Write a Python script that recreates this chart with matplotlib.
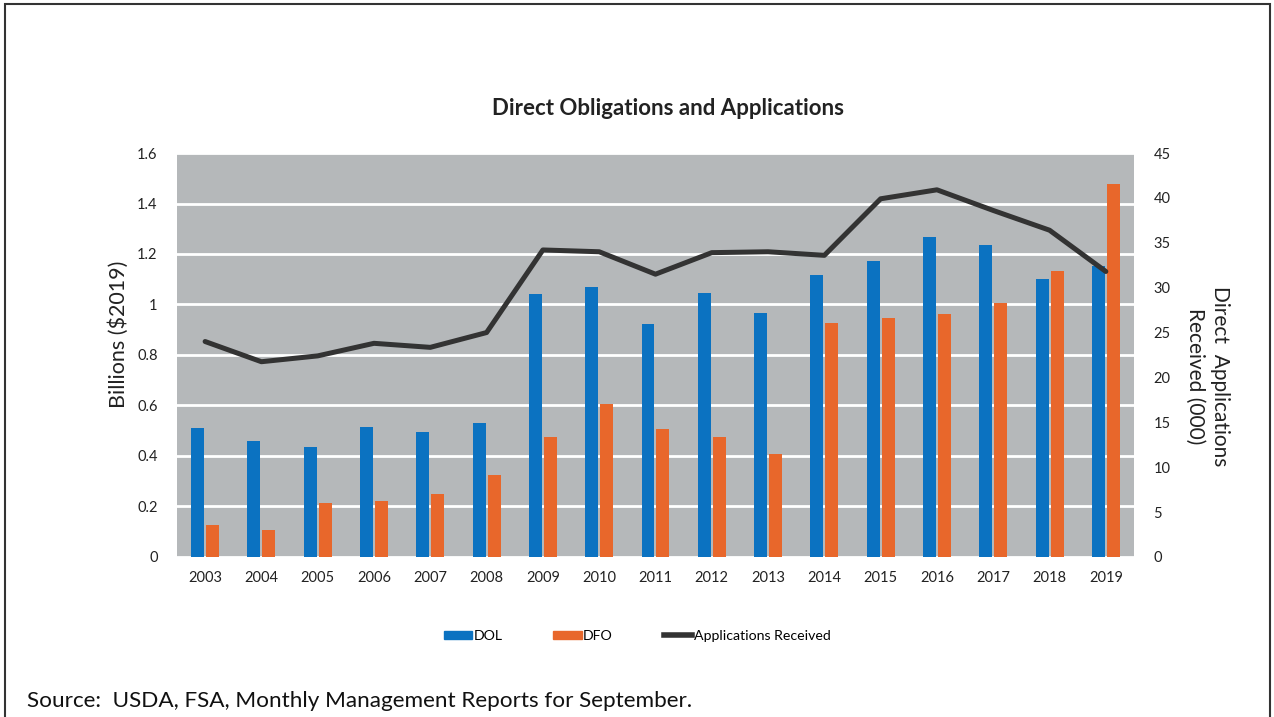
import numpy as np
import matplotlib
matplotlib.use("Agg")
import matplotlib.pyplot as plt
from matplotlib.patches import Rectangle
from matplotlib.lines import Line2D
from matplotlib.patches import Patch

plt.rcParams['font.family'] = ['Lato', 'DejaVu Sans']

years = ["2003", "2004", "2005", "2006", "2007", "2008", "2009", "2010", "2011",
         "2012", "2013", "2014", "2015", "2016", "2017", "2018", "2019"]
dol = [0.51, 0.46, 0.434, 0.516, 0.496, 0.53, 1.042, 1.07, 0.923,
       1.046, 0.966, 1.117, 1.172, 1.266, 1.237, 1.10, 1.152]
dfo = [0.125, 0.107, 0.213, 0.22, 0.251, 0.324, 0.475, 0.606, 0.507,
       0.475, 0.408, 0.927, 0.947, 0.964, 1.007, 1.131, 1.478]
apps = [24.0, 21.75, 22.4, 23.8, 23.35, 25.0, 34.2, 34.0, 31.5,
        33.9, 34.0, 33.6, 39.9, 40.9, 38.6, 36.4, 31.8]

c_dol = "#0b72c1"
c_dfo = "#e8672b"
c_line = "#333333"
c_bg = "#b5b8ba"

fig = plt.figure(figsize=(12.74, 7.17), dpi=100)
ax = fig.add_axes([0.1389, 0.2232, 0.7512, 0.5634])
ax.set_facecolor(c_bg)

x = np.arange(len(years))
w = 0.23
ax.bar(x - 0.133, dol, width=w, color=c_dol, zorder=3)
ax.bar(x + 0.133, dfo, width=w, color=c_dfo, zorder=3)

ax.set_xlim(-0.5, len(years) - 0.5)
ax.set_ylim(0, 1.6)
ax.set_yticks(np.arange(0, 1.61, 0.2))
ax.set_yticklabels(["0", "0.2", "0.4", "0.6", "0.8", "1", "1.2", "1.4", "1.6"])
ax.set_xticks(x)
ax.set_xticklabels(years)
ax.grid(axis='y', color='white', linewidth=2, zorder=1)
ax.set_axisbelow(True)
for s in ax.spines.values():
    s.set_visible(False)
ax.tick_params(length=0, labelsize=10.5, colors="#222222", pad=10)
ax.tick_params(axis='y', pad=14)
ax.set_ylabel("Billions ($2019)", fontsize=15.5, color="#222222")
ax.yaxis.set_label_coords(-0.05, 0.55)

ax2 = ax.twinx()
ax2.plot(x, apps, color=c_line, linewidth=3.6, zorder=5, solid_capstyle='round')
ax2.set_ylim(0, 45)
ax2.set_yticks(np.arange(0, 46, 5))
for s in ax2.spines.values():
    s.set_visible(False)
ax2.tick_params(length=0, labelsize=10.5, colors="#222222", pad=14)
ax2.set_ylabel("Direct  Applications\nReceived (000)", fontsize=15, rotation=270,
               color="#222222", linespacing=1.35, va='center', ha='center')
ax2.yaxis.set_label_coords(1.077, 0.448)

fig.text(0.524, 0.848, "Direct Obligations and Applications", ha='center', va='center',
         fontsize=16, fontweight='bold', color="#222222")

handles = [Patch(color=c_dol, label="DOL"),
           Patch(color=c_dfo, label="DFO"),
           Line2D([0], [0], color=c_line, linewidth=4, label="Applications Received")]
fig.legend(handles=handles, loc='center', bbox_to_anchor=(0.5, 0.113), ncol=3,
           frameon=False, fontsize=10.2, handlelength=2.0, handleheight=0.5,
           columnspacing=3.6, handletextpad=0.1)

fig.text(0.021, 0.022, "Source:  USDA, FSA, Monthly Management Reports for September.",
         ha='left', va='center', fontsize=16.2, color="#111111")

fig.patches.append(Rectangle((0.004, -0.05), 0.993, 1.044, transform=fig.transFigure,
                             fill=False, edgecolor="#333333", linewidth=1.5))

fig.savefig("out.png", dpi=100)
